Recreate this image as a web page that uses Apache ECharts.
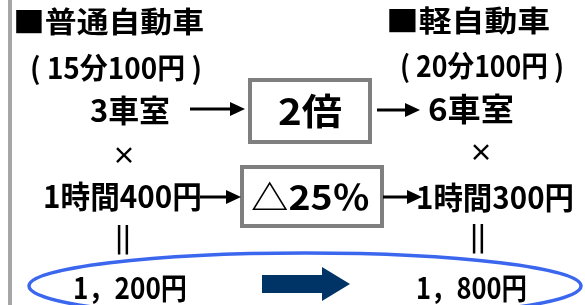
<!DOCTYPE html>
<html>
<head>
<meta charset="UTF-8">
<title>普通自動車と軽自動車の比較</title>
<script src="https://cdn.jsdelivr.net/npm/echarts@6/dist/echarts.min.js"></script>
<style>
  html, body { margin: 0; padding: 0; background: #fff; }
  #main { width: 585px; height: 305px; }
</style>
</head>
<body>
<div id="main"></div>
<script>
// 左：普通自動車 / 右：軽自動車
var vehicles = ['■普通自動車', '■軽自動車'];
var rates = ['( 15分100円 )', '( 20分100円 )'];
var rooms = ['3車室', '6車室'];
var hourly = ['1時間400円', '1時間300円'];
var totals = ['1，200円', '1，800円'];
var changes = ['2倍', '△25％'];

var FONT = '"Noto Sans CJK JP", sans-serif';
var ctx = document.createElement('canvas').getContext('2d');

// 文字列を x1〜x2 の幅に合わせて横に伸縮する
function fit(s, x1, x2, cy, size, sy) {
  ctx.font = 'bold ' + size + 'px ' + FONT;
  var w = ctx.measureText(s).width;
  return {
    type: 'text',
    x: x1 - 2, y: cy, scaleX: (x2 - x1 + 4) / w, scaleY: sy || 1,
    style: {
      text: s, x: 0, y: 0,
      fontSize: size, fontFamily: FONT, fontWeight: 'bold',
      fill: '#000', textAlign: 'left', textVerticalAlign: 'middle'
    }
  };
}

function mark(s, x, y, size) {
  return {
    type: 'text',
    style: {
      text: s, x: x, y: y,
      fontSize: size, fontFamily: FONT, fontWeight: 'bold',
      fill: '#000', textAlign: 'center', textVerticalAlign: 'middle'
    }
  };
}

function arrow(x1, x2, y) {
  return [
    { type: 'line', shape: { x1: x1, y1: y, x2: x2 - 12, y2: y }, style: { stroke: '#000', lineWidth: 3 } },
    { type: 'polygon', shape: { points: [[x2 - 15, y - 7], [x2, y], [x2 - 15, y + 7]] }, style: { fill: '#000' } }
  ];
}

function box(x, y, w, h) {
  return { type: 'rect', shape: { x: x, y: y, width: w, height: h }, style: { fill: '#fff', stroke: '#7f7f7f', lineWidth: 4 } };
}

var myChart = echarts.init(document.getElementById('main'));

var els = [
  { type: 'rect', shape: { x: 8, y: 0, width: 4, height: 305 }, style: { fill: '#a6a6a6' } },
  { type: 'ellipse', shape: { cx: 305, cy: 286, rx: 276, ry: 33 }, style: { fill: 'none', stroke: '#3b67ee', lineWidth: 3.5 } },
  fit(vehicles[0], 15, 202, 22, 29),
  fit(vehicles[1], 388, 548, 21, 29),
  fit(rates[0], 32, 200, 68, 27, 1.08),
  fit(rates[1], 402, 562, 66, 27, 1.08),
  fit(rooms[0], 92, 168, 110, 29, 1.05),
  fit(rooms[1], 430, 512, 109, 30, 1.05),
  mark('×', 124, 155, 24),
  mark('×', 481, 152, 24),
  fit(hourly[0], 45, 200, 196, 29, 1.06),
  fit(hourly[1], 418, 572, 197, 29, 1.06),
  mark('||', 123, 237, 26),
  mark('||', 478, 236, 26),
  fit(totals[0], 75, 185, 288, 28, 1.06),
  fit(totals[1], 418, 525, 288, 28, 1.06),
  box(250, 80, 120, 62),
  fit(changes[0], 280, 340, 111, 36),
  box(242, 167, 140, 59),
  fit(changes[1], 253, 368, 197, 34),
  { type: 'polygon', shape: { points: [[262, 275], [322, 275], [322, 267], [350, 284], [322, 301], [322, 293], [262, 293]] }, style: { fill: '#003366' } }
];
els = els.concat(arrow(190, 245, 109), arrow(377, 420, 110), arrow(200, 241, 197), arrow(383, 422, 197));

var option = {
  animation: false,
  graphic: { elements: els }
};

myChart.setOption(option);
</script>
</body>
</html>
